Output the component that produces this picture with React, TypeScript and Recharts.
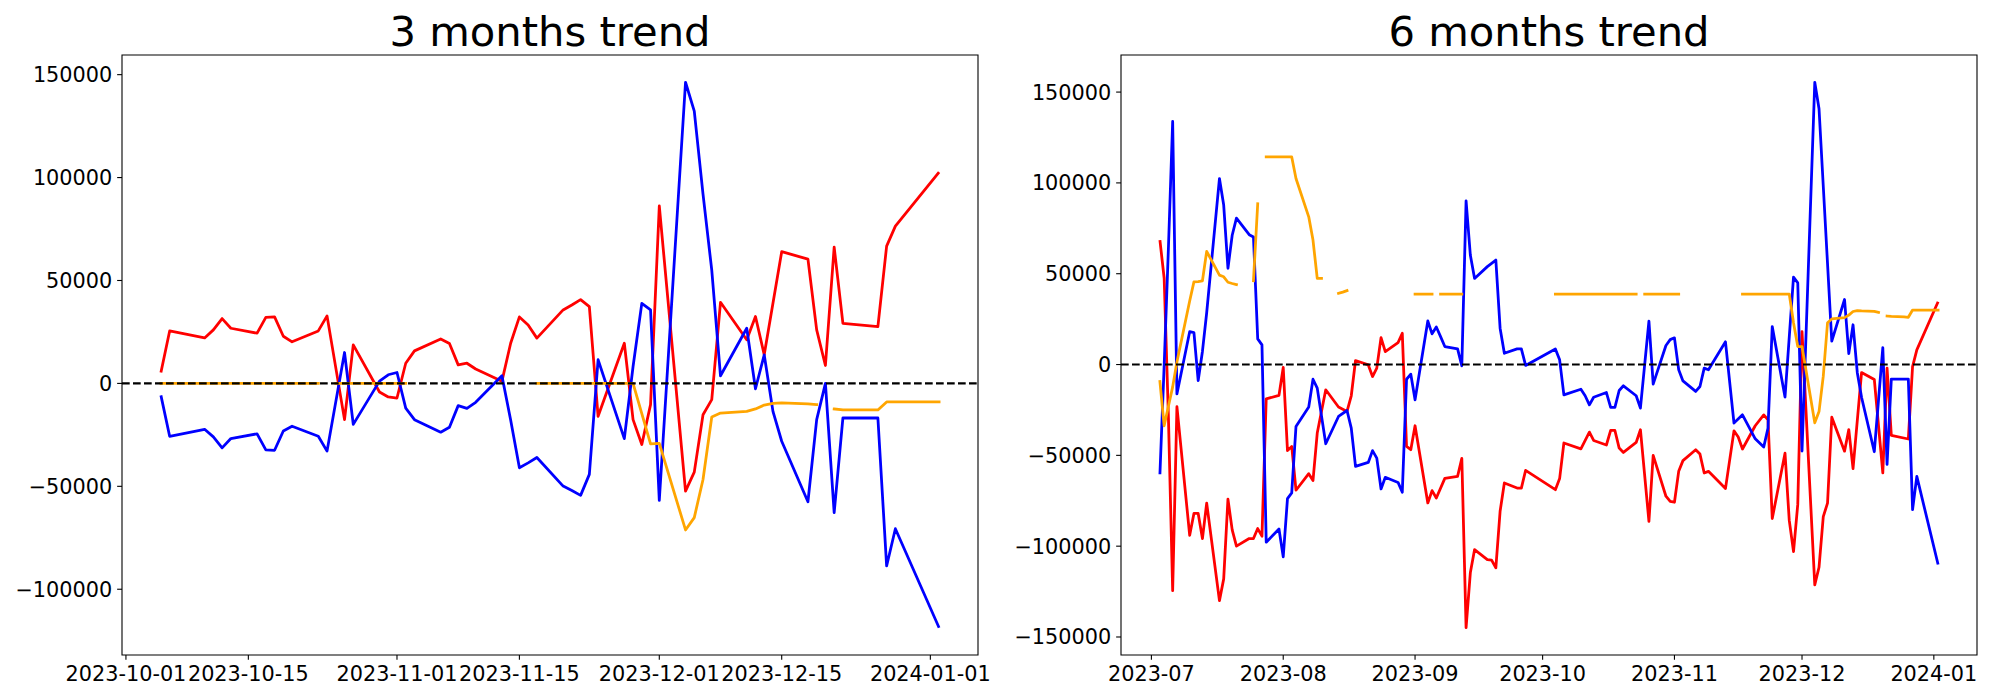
import React from "react";
import { LineChart, Line, XAxis, YAxis, ReferenceLine, ReferenceArea } from "recharts";

const FONT = "'DejaVu Sans', sans-serif";
const RED = "#ff0000";
const BLUE = "#0000ff";
const ORANGE = "#ffa500";

// ---- 3 months (weekdays Oct 5 -> Jan 2) ----
const dates3 = (
  "2023-10-05 2023-10-06 2023-10-09 2023-10-10 2023-10-11 2023-10-12 2023-10-13 2023-10-16 2023-10-17 2023-10-18 " +
  "2023-10-19 2023-10-20 2023-10-23 2023-10-24 2023-10-25 2023-10-26 2023-10-27 2023-10-30 2023-10-31 " +
  "2023-11-01 2023-11-02 2023-11-03 2023-11-06 2023-11-07 2023-11-08 2023-11-09 2023-11-10 2023-11-13 2023-11-14 " +
  "2023-11-15 2023-11-16 2023-11-17 2023-11-20 2023-11-21 2023-11-22 2023-11-23 2023-11-24 2023-11-27 2023-11-28 " +
  "2023-11-29 2023-11-30 " +
  "2023-12-01 2023-12-04 2023-12-05 2023-12-06 2023-12-07 2023-12-08 2023-12-11 2023-12-12 2023-12-13 2023-12-14 " +
  "2023-12-15 2023-12-18 2023-12-19 2023-12-20 2023-12-21 2023-12-22 2023-12-25 2023-12-26 2023-12-27 2023-12-28 " +
  "2023-12-29 2024-01-01 2024-01-02"
).split(" ");

const red3 = [
  5300, 25500, null, 22100, 26000, 31500, 26800, 24400, 32100, 32300, 22900, 20200, 25500, 32800, null, -17600, 18700, -4200, -6600,
  -7100, 9800, 15800, 21600, 19400, 9000, 9800, 7000, 1000, 19500, 32300, 28400, 22000, 35700, 38100, 40700, 37300, -16000, 19500, -17600, -29700, -10300,
  86200, -52300, -43100, -15200, -7900, 39400, 21200, 32500, 13900, null, 64000, 60400, 26000, 8700, 66200, 29200, null, 27600, 66700, 76400, null,
  null, 102700,
];

const blue3 = [
  -5800, -25700, null, -22300, -26000, -31300, -26800, -24500, -32300, -32500, -23100, -20800, -25700, -32900, null, 15000, -19900, 1100, 4200,
  5300, -12000, -17600, -23700, -21300, -10800, -12100, -9200, 3700, -17800, -41000, -38600, -36000, -49900, -52000, -54400, -44200, 11500, -26800, 8200, 38900, 35700,
  -56800, 146300, 132300, 92000, 55000, 3700, 26800, -2600, 13900, -13600, -28100, -57500, -17600, 0, -62800, -16800, null, -16800, -88700, -70600, null,
  null, -118700,
];

const orange3 = [
  0, 0, 0, 0, 0, 0, 0, 0, 0, 0, 0, 0, 0, null, 0, 0, 0, 0, 0,
  0, 0, null, null, null, null, null, null, null, null, null, null, 0, 0, 0, 0, 0, 0, 0, 0, -14700, -29400,
  -29100, -71200, -65200, -46700, -16300, -14400, -13600, -12400, -10500, -9700, -9500, -9900, -10300, null, -12400, -12900, -12900, -12900, -9000, -9000, -9000,
  -9000, -9000,
];

const xTicks3 = ["2023-10-01", "2023-10-15", "2023-11-01", "2023-11-15", "2023-12-01", "2023-12-15", "2024-01-01"];
const yTicks3 = [-100000, -50000, 0, 50000, 100000, 150000];

// ---- 6 months (weekdays Jul 3 -> Jan 2) ----
const dates6 = (
  "2023-07-03 2023-07-04 2023-07-05 2023-07-06 2023-07-07 2023-07-10 2023-07-11 2023-07-12 2023-07-13 2023-07-14 " +
  "2023-07-17 2023-07-18 2023-07-19 2023-07-20 2023-07-21 2023-07-24 2023-07-25 2023-07-26 2023-07-27 2023-07-28 2023-07-31 " +
  "2023-08-01 2023-08-02 2023-08-03 2023-08-04 2023-08-07 2023-08-08 2023-08-09 2023-08-10 2023-08-11 2023-08-14 " +
  "2023-08-15 2023-08-16 2023-08-17 2023-08-18 2023-08-21 2023-08-22 2023-08-23 2023-08-24 2023-08-25 2023-08-28 " +
  "2023-08-29 2023-08-30 2023-08-31 " +
  "2023-09-01 2023-09-04 2023-09-05 2023-09-06 2023-09-07 2023-09-08 2023-09-11 2023-09-12 2023-09-13 2023-09-14 " +
  "2023-09-15 2023-09-18 2023-09-19 2023-09-20 2023-09-21 2023-09-22 2023-09-25 2023-09-26 2023-09-27 2023-09-28 2023-09-29 " +
  "2023-10-02 2023-10-03 2023-10-04 2023-10-05 2023-10-06 2023-10-09 2023-10-10 2023-10-11 2023-10-12 2023-10-13 " +
  "2023-10-16 2023-10-17 2023-10-18 2023-10-19 2023-10-20 2023-10-23 2023-10-24 2023-10-25 2023-10-26 2023-10-27 " +
  "2023-10-30 2023-10-31 " +
  "2023-11-01 2023-11-02 2023-11-03 2023-11-06 2023-11-07 2023-11-08 2023-11-09 2023-11-10 2023-11-13 2023-11-14 " +
  "2023-11-15 2023-11-16 2023-11-17 2023-11-20 2023-11-21 2023-11-22 2023-11-23 2023-11-24 2023-11-27 2023-11-28 " +
  "2023-11-29 2023-11-30 " +
  "2023-12-01 2023-12-04 2023-12-05 2023-12-06 2023-12-07 2023-12-08 2023-12-11 2023-12-12 2023-12-13 2023-12-14 " +
  "2023-12-15 2023-12-18 2023-12-19 2023-12-20 2023-12-21 2023-12-22 2023-12-25 2023-12-26 2023-12-27 2023-12-28 2023-12-29 " +
  "2024-01-01 2024-01-02"
).split(" ");

const red6 = [
  // Jul
  68500, 47500, -28800, -124500, -23200, -94000, -82000, -82000, -95800, -76300, -130000, -118000, -74100, -91000, -100000, -95800, -95800, -90300, -94500, -18900, -17000,
  // Aug
  -1600, -47400, -45100, -69200, -60100, -63900, -37700, null, -13900, -23400, null, -25800, -17200, 2200, -200, -6600, -2000, 14800, 7100, 12100, 17200, -45100, -46900,
  // Sep
  -33700, -76200, -69400, -73500, null, -62700, -61600, -51700, -144900, -114700, -101900, -107400, -107700, -111900, -80800, -65200, -68000, -68000, -58300, null, null,
  // Oct
  null, null, -68900, -62800, -43200, null, -46400, null, -37200, -41800, -44300, -36300, -36300, -46000, -48400, -42900, -35900, null, -86300, -50000, -72500, -75300,
  // Nov
  -75800, -58800, -52900, -46900, -49300, -59700, -58800, null, -68300, null, -36500, -39900, -46500, -33700, null, -27700, -30400, -84800, -48800, -85800, -103000, -77000,
  // Dec
  18100, -121300, -111600, -83700, -76300, -29000, -47700, -35800, -57300, null, -4400, -8200, null, -59700, -2000, -39000, null, -41000, -1100, 8100, null,
  // Jan
  null, 34600,
];

const blue6 = [
  -60400, -500, 64000, 133800, -16200, 18100, 17600, -8800, 7200, 28500, 102400, 87800, 53000, 71200, 80600, 71500, 70200, 14100, 10800, -97800, -90500,
  -105900, -73800, -70700, -34100, -23400, -8100, -13000, null, -43600, -28600, null, -25300, -35000, -56100, -53900, -47400, -51500, -68500, -62100, -64900, -70300, -8100, -5300,
  -19400, 24000, 16900, 20700, 15400, 9900, 8600, -700, 90100, 60300, 47400, 53900, 55700, 57500, 20000, 6200, 8600, 8600, -500, null, null,
  null, null, 8600, 2600, -16700, null, -13600, -17200, -22200, -18000, -15400, -23600, -23600, -14300, -11700, -17200, -24000, null, 23900, -10800, 10500, 13700,
  14700, -2900, -9000, -14800, -12100, -2000, -2900, null, 12500, null, -32200, null, -27700, -40900, null, -45400, -35000, 20900, -17900, null, 48100, 45000,
  -47600, 155400, 140800, null, null, 12900, 35800, 6000, 21900, -4500, -18000, -48000, null, 9300, -55000, -8000, null, -8000, -79900, -61600, null,
  null, -110100,
];

const orange6 = [
  -9400, -33700, -23000, -12300, 1400, 35000, 45500, 45700, 46100, 62300, 49200, 48300, 45300, 44600, 44000, null, 46100, 88500, null, 114300, 114300,
  114300, 114300, 114300, 102400, 81300, 68500, 47400, 47400, null, 39200, 39900, 40700, null, null, null, null, null, null, null, null, null, null, null,
  38800, 38800, 38800, null, 38800, 38800, 38800, 38800, null, null, null, null, null, null, null, null, null, null, null, null, null,
  null, null, 38800, 38800, 38800, 38800, 38800, 38800, 38800, 38800, 38800, 38800, 38800, 38800, 38800, 38800, null, 38800, 38800, 38800, 38800, 38800,
  38800, 38800, null, null, null, null, null, null, null, null, null, null, 38800, 38800, 38800, 38800, 38800, 38800, 38800, 38800, 23000, 9900,
  9900, -32100, -25900, -6400, 23000, 25100, 25800, 27200, 29200, 29700, 29500, 29300, 28700, null, 26700, 26500, 26300, 26000, 30000, 30000, 30000,
  30000, 30000,
];

const xTicks6 = ["2023-07", "2023-08", "2023-09", "2023-10", "2023-11", "2023-12", "2024-01"];
const yTicks6 = [-150000, -100000, -50000, 0, 50000, 100000, 150000];

type Val = number | null;
type Row = { t: number; red: Val; blue: Val; orange: Val };

function buildRows(dates: string[], red: Val[], blue: Val[], orange: Val[]): Row[] {
  return dates.map((d, i) => ({ t: Date.parse(d), red: red[i], blue: blue[i], orange: orange[i] }));
}

// matplotlib style 5% margins
function withMargin(lo: number, hi: number): [number, number] {
  const m = (hi - lo) * 0.05;
  return [lo - m, hi + m];
}

function fmtY(v: number) {
  return v < 0 ? "\u2212" + String(-v) : String(v);
}

const TICK_FONT = 20.8;

interface PanelProps {
  title: string;
  rows: Row[];
  xTickLabels: string[];
  yTicks: number[];
  left: number;
  yAxisWidth: number;
  rightMargin: number;
}

function Panel({ title, rows, xTickLabels, yTicks, left, yAxisWidth, rightMargin }: PanelProps) {
  const ts = rows.map((r) => r.t);
  const xDomain = withMargin(Math.min(...ts), Math.max(...ts));
  const vals = rows.flatMap((r) => [r.red, r.blue, r.orange]).filter((v): v is number => v != null);
  const yDomain = withMargin(Math.min(...vals), Math.max(...vals));
  const xTicks = xTickLabels.map((l) => Date.parse(l));
  const plotW = 1000 - yAxisWidth - rightMargin;

  return (
    <div style={{ position: "absolute", left, top: 0, width: 1000, height: 700 }}>
      <div
        style={{
          position: "absolute",
          left: yAxisWidth,
          top: 8,
          width: plotW,
          textAlign: "center",
          fontFamily: FONT,
          fontSize: 41.7,
          lineHeight: "48.5px",
          color: "#000",
          whiteSpace: "nowrap",
        }}
      >
        {title}
      </div>
      <LineChart width={1000} height={700} data={rows} margin={{ top: 55, right: rightMargin, bottom: 0, left: 0 }}>
        <XAxis
          type="number"
          dataKey="t"
          domain={xDomain}
          ticks={xTicks}
          interval={0}
          height={45}
          allowDataOverflow
          axisLine={false}
          tickLine={{ stroke: "#000", strokeWidth: 1.1 }}
          tickSize={4.86}
          tickMargin={4.86}
          tick={(p: any) => (
            <text x={p.x} y={p.y} dy="0.76em" textAnchor="middle" fontFamily={FONT} fontSize={TICK_FONT} fill="#000">
              {xTickLabels[xTicks.indexOf(p.payload.value)] ?? ""}
            </text>
          )}
        />
        <YAxis
          type="number"
          domain={yDomain}
          ticks={yTicks}
          interval={0}
          width={yAxisWidth}
          allowDataOverflow
          axisLine={false}
          tickLine={{ stroke: "#000", strokeWidth: 1.1 }}
          tickSize={4.86}
          tickMargin={4.86}
          tick={(p: any) => (
            <text x={p.x} y={p.y} dy="0.36em" textAnchor="end" fontFamily={FONT} fontSize={TICK_FONT} fill="#000">
              {fmtY(p.payload.value)}
            </text>
          )}
        />
        <Line type="linear" dataKey="red" stroke={RED} strokeWidth={2.78} strokeLinejoin="round" dot={false} activeDot={false} connectNulls isAnimationActive={false} />
        <Line type="linear" dataKey="blue" stroke={BLUE} strokeWidth={2.78} strokeLinejoin="round" dot={false} activeDot={false} connectNulls isAnimationActive={false} />
        <Line type="linear" dataKey="orange" stroke={ORANGE} strokeWidth={2.78} strokeLinejoin="round" strokeLinecap="square" dot={false} activeDot={false} connectNulls={false} isAnimationActive={false} />
        <ReferenceLine y={0} stroke="#000" strokeWidth={2.08} strokeDasharray="7.7 3.3" />
        <ReferenceArea x1={xDomain[0]} x2={xDomain[1]} y1={yDomain[0]} y2={yDomain[1]} fill="none" stroke="#000" strokeWidth={1.1} />
      </LineChart>
    </div>
  );
}

export default function App() {
  const rows3 = buildRows(dates3, red3, blue3, orange3);
  const rows6 = buildRows(dates6, red6, blue6, orange6);
  return (
    <div style={{ position: "absolute", left: 0, top: 0, width: 2000, height: 700, background: "#fff" }}>
      <Panel title="3 months trend" rows={rows3} xTickLabels={xTicks3} yTicks={yTicks3} left={0} yAxisWidth={122} rightMargin={22} />
      <Panel title="6 months trend" rows={rows6} xTickLabels={xTicks6} yTicks={yTicks6} left={1000} yAxisWidth={121} rightMargin={23} />
    </div>
  );
}
